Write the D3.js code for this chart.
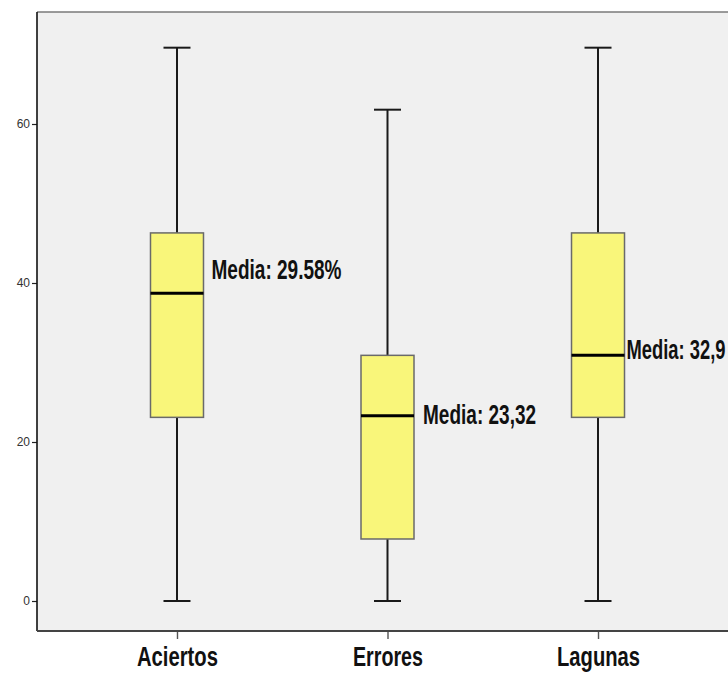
<!DOCTYPE html>
<html>
<head>
<meta charset="utf-8">
<script src="https://cdn.jsdelivr.net/npm/d3@7/dist/d3.min.js"></script>
<style>
  html, body { margin: 0; padding: 0; background: #ffffff; }
  svg { display: block; }
  .narrow { font-family: "Liberation Sans Narrow", "Arial Narrow", "Liberation Sans", sans-serif; }
</style>
</head>
<body>
<svg id="chart" width="728" height="673"></svg>
<script>
// Box-plot summaries per category
const categories = ["Aciertos", "Errores", "Lagunas"];
const whiskerLow  = [0, 0, 0];
const q1Values    = [23.1, 7.8, 23.1];
const medians     = [38.7, 23.3, 30.9];
const q3Values    = [46.3, 30.9, 46.3];
const whiskerHigh = [69.6, 61.8, 69.6];

// Mean annotations and the value level where each note sits
const meanLabels = ["Media: 29.58%", "Media: 23,32", "Media: 32,9"];
const labelLevels = [40.5, 22.3, 30.4];

const yTicks = [0, 20, 40, 60];

const svg = d3.select("#chart");
const plot = { left: 37, right: 738, top: 12, bottom: 631 };

const y = d3.scaleLinear().domain([0, 60]).range([601, 124]);
const x = d3.scalePoint().domain(categories).range([plot.left, plot.right]).padding(0.665);

const boxW = 53, capW = 27;

// plot background
svg.append("rect")
  .attr("x", plot.left).attr("y", plot.top)
  .attr("width", plot.right - plot.left).attr("height", plot.bottom - plot.top)
  .attr("fill", "#f0f0f0");

// top frame line
svg.append("line")
  .attr("x1", plot.left).attr("x2", plot.right)
  .attr("y1", plot.top).attr("y2", plot.top)
  .attr("stroke", "#7a7a7a").attr("stroke-width", 1.6);

// y axis
const yAxis = d3.axisLeft(y).tickValues(yTicks).tickSize(5).tickPadding(2).tickFormat(d3.format("d"));
const gy = svg.append("g").attr("transform", `translate(${plot.left},0)`).call(yAxis);
gy.select(".domain").remove();
gy.selectAll(".tick line").attr("stroke", "#222").attr("stroke-width", 1.2);
gy.selectAll(".tick text").attr("class", "narrow").attr("font-size", 12).attr("fill", "#333");
svg.append("line")
  .attr("x1", plot.left).attr("x2", plot.left)
  .attr("y1", plot.top).attr("y2", plot.bottom)
  .attr("stroke", "#111").attr("stroke-width", 1.6);

// x axis
const xAxis = d3.axisBottom(x).tickSize(8).tickPadding(6);
const gx = svg.append("g").attr("transform", `translate(0,${plot.bottom})`).call(xAxis);
gx.select(".domain").remove();
gx.selectAll(".tick line").attr("stroke", "#555").attr("stroke-width", 1.4);
const xLabelWidths = { "Aciertos": 81, "Errores": 70, "Lagunas": 83 };
gx.selectAll(".tick text")
  .attr("class", "narrow")
  .attr("font-size", 28).attr("font-weight", "bold").attr("fill", "#111")
  .attr("dy", "0.75em")
  .attr("textLength", d => xLabelWidths[d])
  .attr("lengthAdjust", "spacingAndGlyphs");
svg.append("line")
  .attr("x1", plot.left).attr("x2", plot.right)
  .attr("y1", plot.bottom).attr("y2", plot.bottom)
  .attr("stroke", "#444").attr("stroke-width", 2);

// boxes
const rows = categories.map((c, i) => ({
  c, lo: whiskerLow[i], q1: q1Values[i], med: medians[i], q3: q3Values[i], hi: whiskerHigh[i],
  label: meanLabels[i], level: labelLevels[i]
}));

const g = svg.selectAll("g.box").data(rows).join("g").attr("class", "box");

// whisker stems
g.append("line")
  .attr("x1", d => x(d.c)).attr("x2", d => x(d.c))
  .attr("y1", d => y(d.hi)).attr("y2", d => y(d.q3))
  .attr("stroke", "#1a1a1a").attr("stroke-width", 2);
g.append("line")
  .attr("x1", d => x(d.c)).attr("x2", d => x(d.c))
  .attr("y1", d => y(d.q1)).attr("y2", d => y(d.lo))
  .attr("stroke", "#1a1a1a").attr("stroke-width", 2);
// caps
g.selectAll("line.cap").data(d => [[d.c, d.hi], [d.c, d.lo]]).join("line")
  .attr("class", "cap")
  .attr("x1", d => x(d[0]) - capW / 2).attr("x2", d => x(d[0]) + capW / 2)
  .attr("y1", d => y(d[1])).attr("y2", d => y(d[1]))
  .attr("stroke", "#1a1a1a").attr("stroke-width", 2);

// box body
g.append("rect")
  .attr("x", d => x(d.c) - boxW / 2).attr("width", boxW)
  .attr("y", d => y(d.q3)).attr("height", d => y(d.q1) - y(d.q3))
  .attr("fill", "#f9f67a").attr("stroke", "#6a6a6a").attr("stroke-width", 1.5);

// median
g.append("line")
  .attr("x1", d => x(d.c) - boxW / 2).attr("x2", d => x(d.c) + boxW / 2)
  .attr("y1", d => y(d.med)).attr("y2", d => y(d.med))
  .attr("stroke", "#000").attr("stroke-width", 3);

// mean notes, horizontally condensed
const noteGap = [8, 9, 2];
const noteSquash = [0.705, 0.705, 0.68];
g.append("text")
  .attr("class", "narrow")
  .attr("transform", (d, i) => `translate(${x(d.c) + boxW / 2 + noteGap[i]},${y(d.level)}) scale(${noteSquash[i]},1)`)
  .attr("font-size", 27).attr("font-weight", "bold").attr("fill", "#111")
  .text(d => d.label);
</script>
</body>
</html>
